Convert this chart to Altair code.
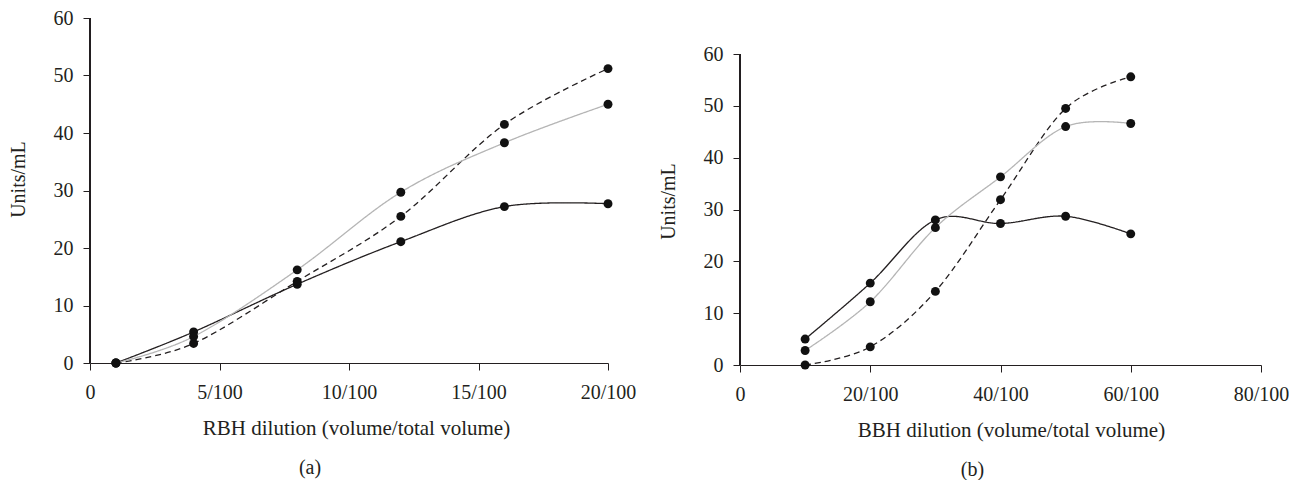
import altair as alt
import pandas as pd

series_names = ["solid", "dashed", "gray"]

rbh_x = [1, 4, 8, 12, 16, 20]
rbh_solid = [0.0, 5.4, 13.7, 21.1, 27.2, 27.7]
rbh_dashed = [0.0, 3.4, 14.2, 25.5, 41.5, 51.2]
rbh_gray = [0.0, 4.6, 16.2, 29.7, 38.3, 45.0]

bbh_x = [10, 20, 30, 40, 50, 60]
bbh_solid = [5.0, 15.8, 28.0, 27.3, 28.7, 25.3]
bbh_dashed = [0.0, 3.5, 14.2, 31.9, 49.5, 55.6]
bbh_gray = [2.8, 12.2, 26.5, 36.3, 46.0, 46.6]

FONT = "Liberation Serif"
INK = "#231f20"


def long_df(xs, solid, dashed, gray):
    rows = []
    for name, ys in zip(series_names, [solid, dashed, gray]):
        for x, y in zip(xs, ys):
            rows.append({"x": x, "y": y, "series": name})
    return pd.DataFrame(rows)


color_scale = alt.Scale(domain=series_names, range=[INK, INK, "#b5b5b5"])
dash_scale = alt.Scale(domain=series_names, range=[[1, 0], [6, 4], [1, 0]])


def panel(df, xmax, xstep, ymax, width, height, xtitle, label, title_x, title_y, label_dx):
    xvals = list(range(0, xmax + 1, xstep))
    x_enc = alt.X(
        "x:Q",
        scale=alt.Scale(domain=[0, xmax], nice=False, zero=True),
        axis=alt.Axis(
            values=xvals,
            labelExpr="datum.value == 0 ? '0' : datum.value + '/100'",
            title=xtitle,
            grid=False,
            labelFlush=False,
            labelPadding=12,
            titlePadding=15,
            titleFontSize=21,
            titleX=title_x,
        ),
    )
    y_enc = alt.Y(
        "y:Q",
        scale=alt.Scale(domain=[0, ymax], nice=False),
        axis=alt.Axis(
            values=list(range(0, 61, 10)),
            title="Units/mL",
            grid=False,
            domain=False,
            labelPadding=10,
            titlePadding=25,
            titleY=title_y,
        ),
    )
    base = alt.Chart(df)
    lines = base.mark_line(interpolate="cardinal", strokeWidth=1.3).encode(
        x=x_enc,
        y=y_enc,
        color=alt.Color("series:N", scale=color_scale, legend=None),
        strokeDash=alt.StrokeDash("series:N", scale=dash_scale, legend=None),
        detail="series:N",
    )
    pts = base.mark_circle(size=80, opacity=1, color="#111111").encode(x="x:Q", y="y:Q")
    yline = alt.Chart(df).mark_rule(color=INK, strokeWidth=1).encode(
        x=alt.datum(0), y=alt.datum(0), y2=alt.datum(60)
    )
    return alt.layer(yline, lines, pts).properties(
        width=width,
        height=height,
        title=alt.TitleParams(
            label,
            orient="bottom",
            anchor="middle",
            fontSize=20,
            font=FONT,
            fontWeight="normal",
            color=INK,
            offset=20,
            dx=label_dx,
        ),
    )


df_a = long_df(rbh_x, rbh_solid, rbh_dashed, rbh_gray)
df_b = long_df(bbh_x, bbh_solid, bbh_dashed, bbh_gray)

pa = panel(df_a, 20, 5, 60, 518, 345, "RBH dilution (volume/total volume)", "(a)", 266, 161, -39)
pb = panel(df_b, 80, 20, 66.95, 521, 347, "BBH dilution (volume/total volume)", "(b)", 271, 183, -28)

chart = (
    alt.hconcat(pa, pb, spacing=22)
    .properties(padding={"left": 0, "top": 0, "right": 0, "bottom": 0})
    .configure_view(stroke=None)
    .configure_axis(
        labelFont=FONT,
        titleFont=FONT,
        labelFontSize=20,
        titleFontSize=20,
        titleFontWeight="normal",
        labelColor=INK,
        titleColor=INK,
        domainColor=INK,
        tickColor=INK,
        tickSize=7,
        domainWidth=1,
        tickWidth=1,
    )
)

chart.save("out.html", embed_options={"renderer": "svg", "actions": False})
